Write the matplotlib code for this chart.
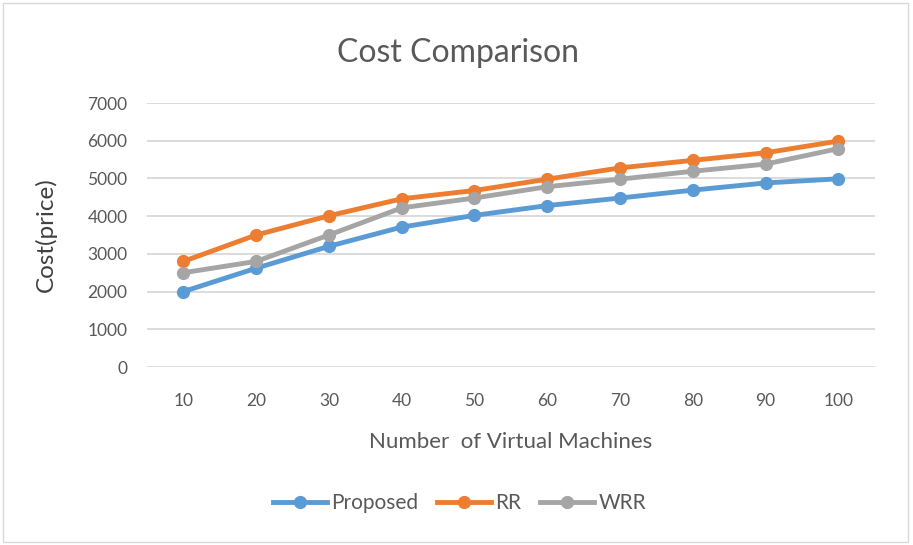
import matplotlib.pyplot as plt
from matplotlib.patches import Rectangle

plt.rcParams["font.family"] = ["Lato", "DejaVu Sans"]

vms = [10, 20, 30, 40, 50, 60, 70, 80, 90, 100]
proposed = [2000, 2620, 3200, 3710, 4020, 4280, 4480, 4690, 4880, 4990]
rr = [2800, 3500, 4010, 4460, 4680, 4980, 5280, 5480, 5680, 5990]
wrr = [2500, 2800, 3500, 4220, 4480, 4780, 4980, 5190, 5380, 5790]

text_color = "#595959"
grid_color = "#d9d9d9"

fig = plt.figure(figsize=(9.13, 5.45), dpi=100)
ax = fig.add_axes([0.161, 0.3266, 0.797, 0.4844])

x = list(range(len(vms)))
ax.plot(x, proposed, color="#5B9BD5", lw=3.5, marker="o", ms=8.5, label="Proposed", zorder=3)
ax.plot(x, rr, color="#ED7D31", lw=3.5, marker="o", ms=8.5, label="RR", zorder=3)
ax.plot(x, wrr, color="#A5A5A5", lw=3.5, marker="o", ms=8.5, label="WRR", zorder=3)

ax.set_xlim(-0.5, len(vms) - 0.5)
ax.set_ylim(0, 7000)
ax.set_yticks(range(0, 7001, 1000))
ax.set_xticks(x)
ax.set_xticklabels([str(v) for v in vms])
ax.grid(axis="y", color=grid_color, lw=1.3)
ax.set_axisbelow(True)
for s in ax.spines.values():
    s.set_visible(False)
ax.tick_params(length=0, labelsize=12.5, colors=text_color)
ax.tick_params(axis="y", pad=14)
ax.tick_params(axis="x", pad=19)

ax.set_xlabel("Number  of Virtual Machines", fontsize=16, color=text_color, labelpad=16)
ax.set_ylabel("Cost(price)", fontsize=17.5, color="#404040")
ax.yaxis.set_label_coords(-0.124, 0.5)
fig.text(0.502, 0.902, "Cost Comparison", ha="center", va="center", fontsize=23, color=text_color)

fig.legend(loc="center", bbox_to_anchor=(0.503, 0.077), ncol=3, frameon=False,
           fontsize=15, labelcolor=text_color, handlelength=2.6, columnspacing=0.9,
           handletextpad=0.2, numpoints=1)

fig.patches.append(Rectangle((0.003, 0.006), 0.992, 0.988, transform=fig.transFigure,
                             fill=False, edgecolor="#d9d9d9", lw=1))

fig.savefig("out.png", dpi=100)
